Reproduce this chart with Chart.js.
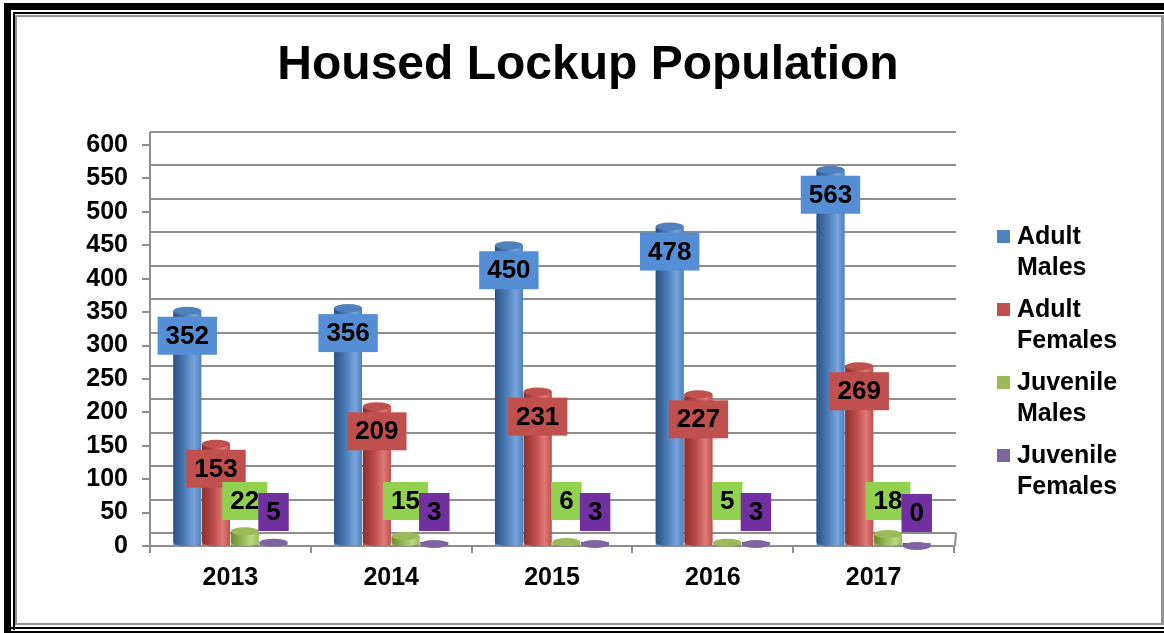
<!DOCTYPE html>
<html>
<head>
<meta charset="utf-8">
<script src="https://cdn.jsdelivr.net/npm/chart.js@4.4.0/dist/chart.umd.min.js"></script>
<style>
  html, body { margin: 0; padding: 0; background: #fff; }
  #chart { display: block; }
</style>
</head>
<body>
<canvas id="chart" width="1164" height="633"></canvas>
<script>
// data
var years = ['2013', '2014', '2015', '2016', '2017'];
var adultMales = [352, 356, 450, 478, 563];
var adultFemales = [153, 209, 231, 227, 269];
var juvenileMales = [22, 15, 6, 5, 18];
var juvenileFemales = [5, 3, 3, 3, 0];
var seriesNames = [['Adult', 'Males'], ['Adult', 'Females'], ['Juvenile', 'Males'], ['Juvenile', 'Females']];
var yMin = 0, yMax = 600, yStep = 50;

var barColors = ['#4f81bd', '#c0504d', '#9bbb59', '#8064a2'];
var darkColors = ['#2c5181', '#8a2f2d', '#6a8a32', '#56407a'];
var lightColors = ['#7aa4dc', '#e07a77', '#bcd885', '#a48cc4'];
var labelColors = ['#558ed5', '#c0504d', '#92d050', '#7030a0'];
// how high small value boxes sit above the floor
var labelLift = [40, 40, 44, 33];
var FONT = '"Liberation Sans", Arial, sans-serif';
var GRID = '#8e8e8e';

var framePlugin = {
    id: 'frame',
    beforeDraw: function (chart) {
        var c = chart.ctx;
        c.save();
        c.fillStyle = '#fff';
        c.fillRect(0, 0, chart.width, chart.height);
        c.fillStyle = '#000';
        c.fillRect(4, 3, 1160, 7);
        c.fillRect(4, 3, 7, 630);
        c.fillRect(13, 12, 1151, 2);
        c.fillRect(13, 12, 2, 618);
        c.fillRect(4, 627, 1160, 2);
        c.fillRect(4, 631, 1160, 2);
        c.fillStyle = '#939393';
        c.fillRect(15, 15, 1146, 2);
        c.fillRect(15, 15, 2, 610);
        c.fillRect(1161, 15, 3, 610);
        c.fillRect(15, 623, 1149, 2);
        // title
        c.fillStyle = '#000';
        c.font = 'bold 48px ' + FONT;
        c.textAlign = 'center';
        c.textBaseline = 'middle';
        c.fillText('Housed Lockup Population', 588, 66);
        c.restore();
    }
};

// back wall grid lines, shifted up like the 3D wall
var wallPlugin = {
    id: 'wall',
    beforeDatasetsDraw: function (chart) {
        var c = chart.ctx, a = chart.chartArea, ys = chart.scales.y;
        var depth = 13;
        c.save();
        c.strokeStyle = GRID;
        c.lineWidth = 2;
        ys.ticks.forEach(function (t) {
            var py = Math.round(ys.getPixelForValue(t.value) - depth);
            c.beginPath();
            c.moveTo(a.left, py);
            c.lineTo(a.right + 2, py);
            c.stroke();
        });
        c.beginPath();
        c.moveTo(a.left, ys.getPixelForValue(yMax) - depth);
        c.lineTo(a.left, a.bottom);
        c.moveTo(a.right + 2, a.bottom - depth);
        c.lineTo(a.right + 1, a.bottom);
        c.stroke();
        c.restore();
    }
};

var cylinderPlugin = {
    id: 'cylinders',
    afterDatasetsDraw: function (chart) {
        var c = chart.ctx;
        c.save();
        chart.data.datasets.forEach(function (ds, di) {
            chart.getDatasetMeta(di).data.forEach(function (bar) {
                var left = bar.x - bar.width / 2, right = bar.x + bar.width / 2;
                var g = c.createLinearGradient(left, 0, right, 0);
                g.addColorStop(0, darkColors[di]);
                g.addColorStop(0.45, barColors[di]);
                g.addColorStop(0.75, lightColors[di]);
                g.addColorStop(1, barColors[di]);
                c.fillStyle = g;
                c.fillRect(left, bar.y, bar.width, bar.base - bar.y - 3);
                c.beginPath();
                c.ellipse(bar.x, bar.base - 3, bar.width / 2, 4, 0, 0, Math.PI);
                c.fill();
                c.beginPath();
                c.ellipse(bar.x, bar.y, bar.width / 2, 4, 0, 0, Math.PI * 2);
                c.fillStyle = barColors[di];
                c.fill();
            });
        });
        // value boxes
        c.font = 'bold 26px ' + FONT;
        c.textAlign = 'center';
        c.textBaseline = 'middle';
        chart.data.datasets.forEach(function (ds, di) {
            chart.getDatasetMeta(di).data.forEach(function (bar, i) {
                var txt = String(ds.data[i]);
                var w = c.measureText(txt).width + 16;
                var h = 38;
                var cy = Math.min(bar.y + 25, bar.base - labelLift[di]);
                c.fillStyle = labelColors[di];
                c.fillRect(bar.x - w / 2, cy - h / 2, w, h);
                c.fillStyle = '#000';
                c.fillText(txt, bar.x, cy + 1);
            });
        });
        c.restore();
    }
};

var legendPlugin = {
    id: 'sideLegend',
    afterDraw: function (chart) {
        var c = chart.ctx;
        c.save();
        c.font = 'bold 25px ' + FONT;
        c.textAlign = 'left';
        c.textBaseline = 'middle';
        chart.data.datasets.forEach(function (ds, di) {
            var y = 237 + di * 73;
            c.fillStyle = barColors[di];
            c.fillRect(997, y - 7, 13, 13);
            c.fillStyle = '#000';
            ds.label.forEach(function (line, li) {
                c.fillText(line, 1017, y + li * 31);
            });
        });
        c.restore();
    }
};

var seriesData = [adultMales, adultFemales, juvenileMales, juvenileFemales];

var ctx = document.getElementById('chart').getContext('2d');
var myChart = new Chart(ctx, {
    type: 'bar',
    data: {
        labels: years,
        datasets: seriesData.map(function (d, i) {
            return {
                label: seriesNames[i],
                data: d,
                backgroundColor: barColors[i],
                borderWidth: 0,
                categoryPercentage: 0.715,
                barPercentage: 0.97
            };
        })
    },
    options: {
        responsive: false,
        animation: false,
        devicePixelRatio: 1,
        layout: {
            padding: { top: 145, right: 210, bottom: 0, left: 0 }
        },
        plugins: {
            legend: { display: false },
            title: { display: false },
            tooltip: { enabled: false }
        },
        scales: {
            x: {
                grid: {
                    offset: true,
                    drawOnChartArea: false,
                    tickLength: 7,
                    color: GRID,
                    lineWidth: 2
                },
                border: { color: GRID, width: 2 },
                ticks: {
                    color: '#000',
                    padding: 10,
                    font: { family: FONT, size: 25, weight: 'bold' }
                },
                afterFit: function (s) { s.height = 87; }
            },
            y: {
                min: yMin,
                max: yMax,
                grid: {
                    drawOnChartArea: false,
                    tickLength: 8,
                    color: GRID,
                    lineWidth: 2
                },
                border: { color: GRID, width: 2 },
                ticks: {
                    stepSize: yStep,
                    color: '#000',
                    padding: 14,
                    font: { family: FONT, size: 25, weight: 'bold' }
                },
                afterFit: function (s) { s.width = 150; }
            }
        }
    },
    plugins: [framePlugin, wallPlugin, cylinderPlugin, legendPlugin]
});
</script>
</body>
</html>
